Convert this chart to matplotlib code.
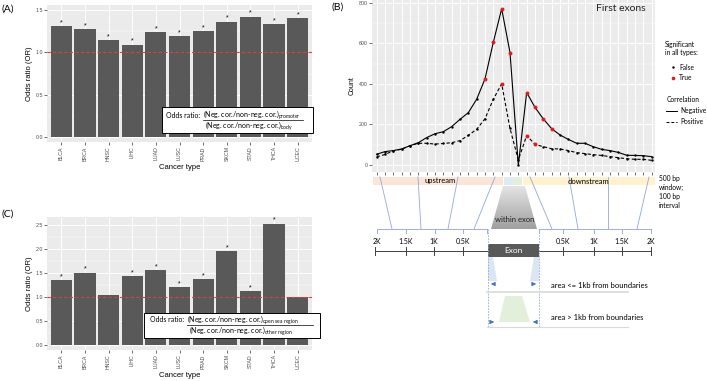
import numpy as np
import matplotlib.pyplot as plt
from matplotlib.patches import Rectangle, Polygon
from matplotlib.colors import LinearSegmentedColormap

plt.rcParams['font.family'] = ['Liberation Sans', 'DejaVu Sans']
plt.rcParams['mathtext.fontset'] = 'custom'
plt.rcParams['mathtext.rm'] = 'Lato'

# panels A and C: odds ratios per cancer type
cancer_types = ['BLCA', 'BRCA', 'HNSC', 'LIHC', 'LUAD', 'LUSC', 'PRAD', 'SKCM', 'STAD', 'THCA', 'UCEC']
or_promoter = [1.31, 1.27, 1.14, 1.09, 1.24, 1.19, 1.25, 1.36, 1.42, 1.33, 1.40]
sig_promoter = [True] * 11
or_opensea = [1.35, 1.51, 1.04, 1.44, 1.56, 1.20, 1.37, 1.96, 1.12, 2.53, 0.99]
sig_opensea = [True, True, False, True, True, True, True, True, True, True, False]

# panel B: counts in sliding windows around first exons
# 16 upstream windows, 2 within-exon areas, 16 downstream windows
neg_counts = [53, 66, 71, 79, 95, 110, 135, 154, 164, 189, 225, 258, 324, 424, 605, 770,
              554, 0,
              357, 284, 227, 179, 148, 126, 107, 107, 90, 77, 71, 62, 48, 47, 46, 41]
pos_counts = [40, 52, 70, 78, 95, 107, 107, 103, 106, 110, 120, 146, 176, 228, 324, 400,
              180, 25,
              145, 102, 90, 80, 79, 71, 61, 56, 51, 47, 41, 36, 31, 28, 28, 23]
neg_sig = [13, 14, 15, 16, 18, 19, 20, 21]
pos_sig = [15, 18, 19]

W, H = 707, 381
fig = plt.figure(figsize=(W / 100, H / 100), dpi=100)

GREY_TXT = '#4D4D4D'
LATO = ['Lato', 'DejaVu Sans']


def px_rect(x0, y0, x1, y1):
    return [x0 / W, 1 - y1 / H, (x1 - x0) / W, (y1 - y0) / H]


def style_gg(ax):
    ax.set_facecolor('#EBEBEB')
    ax.set_axisbelow(True)
    for s in ax.spines.values():
        s.set_visible(False)
    ax.tick_params(which='major', length=2, width=0.5, color='#333333', pad=1)
    ax.tick_params(which='minor', length=0)


def bar_panel(rect, values, sig, yticks, ylim):
    ax = fig.add_axes(rect)
    style_gg(ax)
    x = np.arange(len(cancer_types))
    ax.bar(x, values, width=0.9, color='#595959', zorder=2)
    for xi, v, s in zip(x, values, sig):
        if s:
            ax.annotate('*', (xi, v), xytext=(0, 0), textcoords='offset points',
                        ha='center', va='bottom', fontsize=5)
    ax.axhline(1.0, color='#D9413B', lw=0.8, ls=(0, (3, 2)), zorder=3)
    ax.set_xlim(-0.6, len(x) - 0.4)
    ax.set_ylim(*ylim)
    ax.set_xticks(x)
    ax.set_xticklabels(cancer_types, rotation=90, fontsize=3.8, color=GREY_TXT)
    ax.set_yticks(yticks)
    ax.set_yticklabels(['%.1f' % t for t in yticks], fontsize=3.8, color=GREY_TXT)
    ax.set_yticks(np.array(yticks[:-1]) + 0.25, minor=True)
    ax.grid(which='major', color='white', lw=0.7)
    ax.grid(which='minor', axis='y', color='white', lw=0.35)
    ax.set_xlabel('Cancer type', fontsize=5.5, labelpad=2)
    ax.set_ylabel('Odds ratio (OR)', fontsize=5.5, labelpad=2)
    return ax


ax_a = bar_panel(px_rect(47, 5, 312, 142), or_promoter, sig_promoter,
                 [0.0, 0.5, 1.0, 1.5], (-0.059, 1.559))
ax_c = bar_panel(px_rect(47, 217, 312, 350), or_opensea, sig_opensea,
                 [0.0, 0.5, 1.0, 1.5, 2.0, 2.5], (-0.104, 2.667))

# panel B line chart
ax_b = fig.add_axes(px_rect(372, 0, 655, 172))
style_gg(ax_b)
xb = np.arange(len(neg_counts))
ax_b.plot(xb, neg_counts, color='black', lw=0.8, zorder=2)
ax_b.plot(xb, pos_counts, color='black', lw=0.8, ls=(0, (3, 2)), zorder=2)
for counts, sig in [(neg_counts, neg_sig), (pos_counts, pos_sig)]:
    counts = np.array(counts)
    is_sig = np.isin(xb, sig)
    ax_b.scatter(xb[~is_sig], counts[~is_sig], s=3, color='black', zorder=3, lw=0)
    ax_b.scatter(xb[is_sig], counts[is_sig], s=8, color='#E41A1C', zorder=3, lw=0)
ax_b.set_xlim(-0.56, 33.4)
ax_b.set_ylim(-34.5, 813)
ax_b.set_xticks(xb)
ax_b.set_xticklabels([])
ax_b.set_yticks([0, 200, 400, 600, 800])
ax_b.set_yticklabels(['0', '200', '400', '600', '800'], fontsize=3.8, color=GREY_TXT)
ax_b.set_yticks([100, 300, 500, 700], minor=True)
ax_b.grid(which='major', color='white', lw=0.7)
ax_b.grid(which='minor', axis='y', color='white', lw=0.35)
ax_b.set_ylabel('Count', fontsize=5, labelpad=2)
ax_b.text(0.88, 0.95, 'First exons', transform=ax_b.transAxes, ha='center', va='center',
          fontsize=7.5, family=LATO, color='#222222')

# overlay in pixel coordinates for labels and the schematic
ov = fig.add_axes([0, 0, 1, 1], zorder=10)
ov.set_xlim(0, W)
ov.set_ylim(H, 0)
ov.axis('off')
ov.patch.set_visible(False)

for lab, x, y in [('(A)', 1, 9), ('(B)', 331, 7), ('(C)', 1, 214)]:
    ov.text(x, y, lab, fontsize=7.5, family=LATO, va='center', ha='left')

# odds ratio boxes
def or_box(x0, y0, x1, y1, tx, fx, y_top, y_bot, sub_top, sub_bot, ul_end):
    ov.add_patch(Rectangle((x0, y0), x1 - x0, y1 - y0, facecolor='white',
                           edgecolor='black', lw=0.7))
    ov.text(tx, y_top, 'Odds ratio:', fontsize=5, family=LATO, va='center', ha='left')
    ov.text(fx, y_top, '(Neg. cor./non-neg. cor.)$_\\mathregular{%s}$' % sub_top,
            fontsize=5, family=LATO, va='center', ha='left')
    ov.text(fx + 2, y_bot, '(Neg. cor./non-neg. cor.)$_\\mathregular{%s}$' % sub_bot,
            fontsize=5, family=LATO, va='center', ha='left')
    ov.plot([fx, ul_end], [y_top + 4.5, y_top + 4.5], color='black', lw=0.5)


or_box(162, 107, 313, 133, 166, 203, 115, 126.5, 'promoter', 'body', 303)
or_box(144, 313, 320, 338, 150, 187, 320, 331.5, 'open\\ sea\\ region', 'other\\ region', 313)

# panel B legend
LEG_FS = 4.8
ov.text(665, 44, 'Significant', fontsize=LEG_FS, family=LATO, va='center')
ov.text(665, 53, 'in all types:', fontsize=LEG_FS, family=LATO, va='center')
ov.scatter([673], [67], s=3, color='black', lw=0)
ov.text(679, 67, 'False', fontsize=LEG_FS, family=LATO, va='center')
ov.scatter([673], [78], s=7, color='#E41A1C', lw=0)
ov.text(679, 78, 'True', fontsize=LEG_FS, family=LATO, va='center')
ov.text(667, 100, 'Correlation', fontsize=LEG_FS, family=LATO, va='center')
ov.plot([666, 677], [111, 111], color='black', lw=0.7)
ov.text(680, 111, 'Negative', fontsize=LEG_FS, family=LATO, va='center')
ov.plot([666, 677], [122, 122], color='black', lw=0.7, ls=(0, (3, 2)))
ov.text(680, 122, 'Positive', fontsize=LEG_FS, family=LATO, va='center')
for i, t in enumerate(['500 bp', 'window;', '100 bp', 'interval']):
    ov.text(659, 178 + i * 9, t, fontsize=LEG_FS, family=LATO, va='center')

# region band under panel B
ov.add_patch(Rectangle((373, 177), 130, 8, color='#FBE5D6', lw=0))
ov.add_patch(Rectangle((504, 177), 9, 8, color='#DDEBF7', lw=0))
ov.add_patch(Rectangle((513, 177), 9, 8, color='#E2EFDA', lw=0))
ov.add_patch(Rectangle((523, 177), 132, 8, color='#FFF2CC', lw=0))
ov.text(440, 181, 'upstream', fontsize=5.5, family=LATO, ha='center', va='center')
ov.text(589, 181, 'downstream', fontsize=5.5, family=LATO, ha='center', va='center')

LINE_C = '#8FAADC'
for (xa, xb2) in [(380, 392), (418, 421), (458, 448), (495, 474),
                  (530, 552), (569, 578), (608, 608), (649, 637)]:
    ov.plot([xa, xb2], [177, 229], color=LINE_C, lw=0.6)

# within exon trapezoid with gradient
trap = Polygon([(503, 186), (525, 186), (537, 229), (491, 229)], closed=True,
               facecolor='none', edgecolor='none')
ov.add_patch(trap)
grad = np.linspace(0, 1, 64).reshape(-1, 1)
cmap = LinearSegmentedColormap.from_list('g', ['#E4E4E4', '#A0A0A0'])
im = ov.imshow(grad, cmap=cmap, extent=(491, 537, 229, 186), aspect='auto',
               origin='upper', zorder=1)
im.set_clip_path(trap)
ov.set_xlim(0, W)
ov.set_ylim(H, 0)
ov.text(515, 219, 'within exon', fontsize=5.5, family=LATO, ha='center', va='center',
        color='#222222')

# distance scales
SCALE_C = '#9DAFCB'
for x0, x1, ticks in [(377, 487, [377, 406, 435, 463, 487]),
                      (539, 651, [539, 563, 594, 622, 651])]:
    ov.plot([x0, x1], [229, 229], color=SCALE_C, lw=0.7)
    for t in ticks:
        ov.plot([t, t], [229, 233], color=SCALE_C, lw=0.7)
for lab, x in [('2K', 377), ('1.5K', 406), ('1K', 434), ('0.5K', 463),
               ('0.5K', 563), ('1K', 594), ('1.5K', 622), ('2K', 651)]:
    ov.text(x, 242, lab, fontsize=5, family=LATO, ha='center', va='center')
for x0, x1, ticks in [(375, 488, [375, 406, 434, 463]),
                      (539, 651, [563, 594, 622, 651])]:
    ov.plot([x0, x1], [251, 251], color='#404040', lw=0.7)
    for t in ticks:
        ov.plot([t, t], [247, 255], color='#404040', lw=0.7)

# exon box
ov.add_patch(Rectangle((488, 244), 51, 13, color='#595959', lw=0))
ov.text(513.5, 250.5, 'Exon', fontsize=6, family=LATO, ha='center', va='center', color='white')
for x in [488, 539]:
    ov.plot([x, x], [229, 327], color=LINE_C, lw=0.6, ls=(0, (2, 1.5)))

# boundary areas
ov.add_patch(Polygon([(488, 257), (493, 257), (497, 281), (488, 281)], color='#DAE6F4', lw=0))
ov.add_patch(Polygon([(534, 257), (539, 257), (539, 281), (530, 281)], color='#DAE6F4', lw=0))
ov.add_patch(Polygon([(505, 296), (522, 296), (530, 322), (499, 322)], color='#E2EFDA', lw=0))
ARROW_C = '#4472C4'
arrow_kw = dict(arrowstyle='-|>,head_length=0.25,head_width=0.12', color=ARROW_C, lw=0.6)
for (xs, xe, y) in [(496, 488, 284), (531, 539, 284), (488, 497, 322), (539, 530, 322)]:
    ov.annotate('', xy=(xe, y), xytext=(xs, y), arrowprops=arrow_kw)
ov.plot([487, 628], [291.5, 291.5], color='#D9D9D9', lw=1.2)
ov.plot([487, 628], [327, 327], color='#D9D9D9', lw=0.8)
ov.text(551, 285, 'area <= 1kb from boundaries', fontsize=5.5, family=LATO, va='center')
ov.text(551, 318, 'area > 1kb from boundaries', fontsize=5.5, family=LATO, va='center')

fig.savefig('out.png', dpi=100)
